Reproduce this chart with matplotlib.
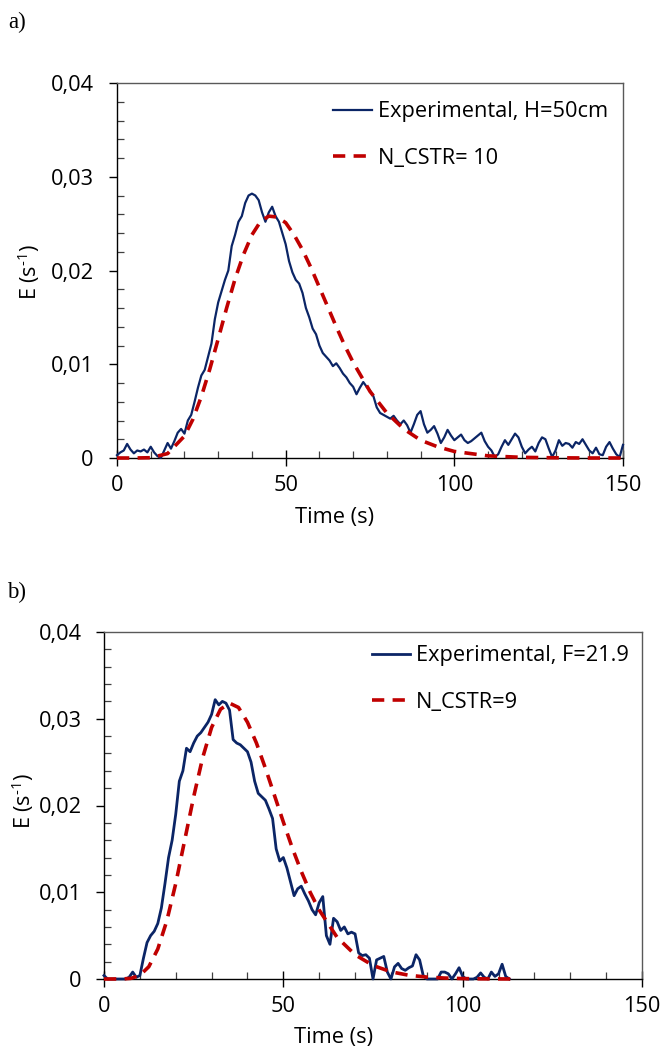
import numpy as np
import matplotlib
matplotlib.use('Agg')
import matplotlib.pyplot as plt
from matplotlib.ticker import MultipleLocator, FixedLocator, FixedFormatter

plt.rcParams['font.family'] = ['Open Sans', 'DejaVu Sans']
plt.rcParams['mathtext.fontset'] = 'custom'
plt.rcParams['mathtext.rm'] = 'Open Sans'
plt.rcParams['mathtext.it'] = 'Open Sans:italic'

# ---------------- data: panel a ----------------
exp_a_E = [0.0003, 0.0006, 0.0008, 0.0015, 0.0009, 0.0005, 0.0008, 0.0007, 0.0009, 0.0006,
           0.0012, 0.0006, 0.0002, 0.0000, 0.0008, 0.0016, 0.0010, 0.0018, 0.0027, 0.0031,
           0.0026, 0.0040, 0.0046, 0.0060, 0.0075, 0.0088, 0.0094, 0.0108, 0.0122, 0.0148,
           0.0166, 0.0178, 0.0190, 0.0200, 0.0226, 0.0238, 0.0252, 0.0258, 0.0272, 0.0280,
           0.0282, 0.0280, 0.0275, 0.0262, 0.0252, 0.0262, 0.0268, 0.0258, 0.0252, 0.0240,
           0.0228, 0.0210, 0.0198, 0.0190, 0.0186, 0.0176, 0.0160, 0.0150, 0.0138, 0.0132,
           0.0120, 0.0112, 0.0108, 0.0104, 0.0098, 0.0101, 0.0096, 0.0090, 0.0086, 0.0080,
           0.0076, 0.0068, 0.0075, 0.0081, 0.0076, 0.0072, 0.0066, 0.0054, 0.0048, 0.0046,
           0.0044, 0.0042, 0.0045, 0.0040, 0.0036, 0.0040, 0.0035, 0.0027, 0.0036, 0.0046,
           0.0050, 0.0036, 0.0027, 0.0030, 0.0034, 0.0026, 0.0016, 0.0022, 0.0030, 0.0024,
           0.0019, 0.0022, 0.0025, 0.0019, 0.0016, 0.0018, 0.0021, 0.0024, 0.0027, 0.0018,
           0.0012, 0.0008, 0.0001, 0.0004, 0.0012, 0.0019, 0.0014, 0.0020, 0.0026, 0.0022,
           0.0012, 0.0005, 0.0009, 0.0012, 0.0007, 0.0016, 0.0022, 0.0020, 0.0010, 0.0001,
           0.0008, 0.0019, 0.0013, 0.0016, 0.0015, 0.0011, 0.0017, 0.0015, 0.0020, 0.0014,
           0.0008, 0.0005, 0.0011, 0.0004, 0.0003, 0.0012, 0.0017, 0.0010, 0.0004, 0.0001,
           0.0014]
exp_a_t = list(range(len(exp_a_E)))

mod_a_t = [0, 5, 10, 15, 20, 22.5, 25, 27.5, 30, 32.5, 35, 37.5, 40, 42.5, 45, 47.5, 50,
           52.5, 55, 57.5, 60, 62.5, 65, 67.5, 70, 75, 80, 85, 90, 95, 100, 110, 120, 130,
           140, 150]
mod_a_E = [0, 0, 0.00003, 0.00047, 0.00234, 0.00413, 0.00655, 0.00947, 0.0127, 0.0160,
           0.0191, 0.0217, 0.0238, 0.0252, 0.0258, 0.0257, 0.0251, 0.0238, 0.0222, 0.0203,
           0.0182, 0.0161, 0.0140, 0.0120, 0.0102, 0.0071, 0.0048, 0.0031, 0.0019, 0.0012,
           0.0007, 0.00023, 0.00007, 0.00002, 0.0, 0.0]

# ---------------- data: panel b ----------------
exp_b_E = [0.0004, 0.0, 0.0, 0.0, 0.0, 0.0, 0.0, 0.0002, 0.0008, 0.0002,
           0.0004, 0.0024, 0.0042, 0.0050, 0.0055, 0.0064, 0.0082, 0.0110, 0.0140, 0.0160,
           0.0190, 0.0228, 0.0240, 0.0266, 0.0262, 0.0272, 0.0280, 0.0284, 0.0290, 0.0296,
           0.0305, 0.0322, 0.0316, 0.0320, 0.0318, 0.0310, 0.0276, 0.0272, 0.0270, 0.0266,
           0.0262, 0.0250, 0.0228, 0.0214, 0.0210, 0.0206, 0.0196, 0.0185, 0.0150, 0.0136,
           0.0140, 0.0128, 0.0112, 0.0096, 0.0104, 0.0107, 0.0098, 0.0090, 0.0080, 0.0074,
           0.0088, 0.0095, 0.0050, 0.0040, 0.0070, 0.0066, 0.0056, 0.0060, 0.0052, 0.0054,
           0.0052, 0.0030, 0.0027, 0.0028, 0.0024, 0.0000, 0.0022, 0.0024, 0.0026, 0.0008,
           0.0000, 0.0014, 0.0018, 0.0012, 0.0010, 0.0013, 0.0015, 0.0028, 0.0022, 0.0004,
           0.0, 0.0, 0.0, 0.0, 0.0008, 0.0008, 0.0006, 0.0, 0.0006, 0.0013,
           0.0003, 0.0, 0.0, 0.0, 0.0002, 0.0007, 0.0002, 0.0, 0.0008, 0.0003,
           0.0006, 0.0017, 0.0003, 0.0]
exp_b_t = list(range(len(exp_b_E)))

mod_b_t = [0, 5, 7.5, 10, 12.5, 15, 17.5, 20, 22.5, 25, 27.5, 30, 32.5, 35, 37.5, 40, 42.5,
           45, 47.5, 50, 52.5, 55, 57.5, 60, 65, 70, 75, 80, 85, 90, 95, 100, 105, 110, 115]
mod_b_E = [0, 0.000005, 0.000074, 0.00042, 0.00142, 0.00346, 0.00669, 0.0110, 0.0160,
           0.0210, 0.0255, 0.0290, 0.0311, 0.0318, 0.0313, 0.0296, 0.0272, 0.0243, 0.0212,
           0.0181, 0.0151, 0.0124, 0.00998, 0.00795, 0.0048, 0.0028, 0.00156, 0.00083,
           0.00043, 0.00022, 0.00011, 0.00005, 0.00002, 0.00001, 0.0]

y_ticks = [0, 0.01, 0.02, 0.03, 0.04]
y_labels = ['0', '0,01', '0,02', '0,03', '0,04']
x_ticks = [0, 50, 100, 150]
x_labels = ['0', '50', '100', '150']

labels_a = ['Experimental, H=50cm', 'N_CSTR= 10']
labels_b = ['Experimental, F=21.9', 'N_CSTR=9']

EXP_COLOR = '#0b2566'
MOD_COLOR = '#c00000'
W, H = 662, 1048
FS = 15.7

fig = plt.figure(figsize=(W / 100, H / 100), dpi=100)


def px_axes(l, t, r, b):
    return fig.add_axes([l / W, 1 - b / H, (r - l) / W, (b - t) / H])


def style(ax, ypad, xpad):
    ax.set_xlim(0, 150)
    ax.set_ylim(0, 0.04)
    ax.yaxis.set_major_locator(FixedLocator(y_ticks))
    ax.yaxis.set_major_formatter(FixedFormatter(y_labels))
    ax.yaxis.set_minor_locator(MultipleLocator(0.002))
    ax.xaxis.set_major_locator(FixedLocator(x_ticks))
    ax.xaxis.set_major_formatter(FixedFormatter(x_labels))
    ax.xaxis.set_minor_locator(MultipleLocator(10))
    ax.tick_params(axis='y', which='major', direction='out', length=5.7, width=1.0,
                   pad=ypad, labelsize=FS, colors='black')
    ax.tick_params(axis='y', which='minor', direction='in', length=5, width=0.9,
                   color='#404040')
    ax.tick_params(axis='x', which='major', direction='inout', length=11, width=1.0,
                   pad=xpad, labelsize=FS)
    ax.tick_params(axis='x', which='minor', direction='in', length=4.7, width=0.9,
                   color='#404040')
    for s in ['left', 'bottom']:
        ax.spines[s].set_color('black')
        ax.spines[s].set_linewidth(1.0)
    for s in ['top', 'right']:
        ax.spines[s].set_color('#595959')
        ax.spines[s].set_linewidth(1.0)


# panel a
axA = px_axes(117, 83, 623, 458)
style(axA, ypad=11.0, xpad=6.5)
la1, = axA.plot(exp_a_t, exp_a_E, color=EXP_COLOR, lw=1.6, zorder=3, clip_on=False)
la2, = axA.plot(mod_a_t, mod_a_E, color=MOD_COLOR, lw=2.6, dashes=(3.4, 2.3), zorder=4,
                clip_on=False)
fig.legend([la1, la2], labels_a, loc='center left',
           bbox_to_anchor=(333 / W, 1 - 135 / H), bbox_transform=fig.transFigure,
           frameon=False, fontsize=FS, handlelength=1.8, handletextpad=0.25,
           labelspacing=1.15, borderpad=0, borderaxespad=0)

# panel b
axB = px_axes(104, 632, 642, 979)
style(axB, ypad=10.3, xpad=6.5)
lb1, = axB.plot(exp_b_t, exp_b_E, color=EXP_COLOR, lw=2.0, zorder=3, clip_on=False)
lb2, = axB.plot(mod_b_t, mod_b_E, color=MOD_COLOR, lw=2.6, dashes=(3.4, 2.3), zorder=4,
                clip_on=False)
fig.legend([lb1, lb2], labels_b, loc='center left',
           bbox_to_anchor=(372 / W, 1 - 679 / H), bbox_transform=fig.transFigure,
           frameon=False, fontsize=FS, handlelength=1.75, handletextpad=0.25,
           labelspacing=1.15, borderpad=0, borderaxespad=0)

# axis titles
ylab = r'E (s$^{\text{-1}}$)'
fig.text(29 / W, 1 - 272 / H, ylab, rotation=90, ha='center', va='center', fontsize=15.5)
fig.text(23 / W, 1 - 801 / H, ylab, rotation=90, ha='center', va='center', fontsize=15.5)
fig.text(334.5 / W, 1 - 518 / H, 'Time (s)', ha='center', va='center', fontsize=FS)
fig.text(334 / W, 1 - 1037 / H, 'Time (s)', ha='center', va='center', fontsize=FS)

# panel letters
fig.text(17 / W, 1 - 22 / H, 'a)', ha='center', va='center', fontsize=16.5,
         family='Liberation Serif')
fig.text(17 / W, 1 - 592 / H, 'b)', ha='center', va='center', fontsize=16.5,
         family='Liberation Serif')

fig.savefig('out.png', dpi=100)
